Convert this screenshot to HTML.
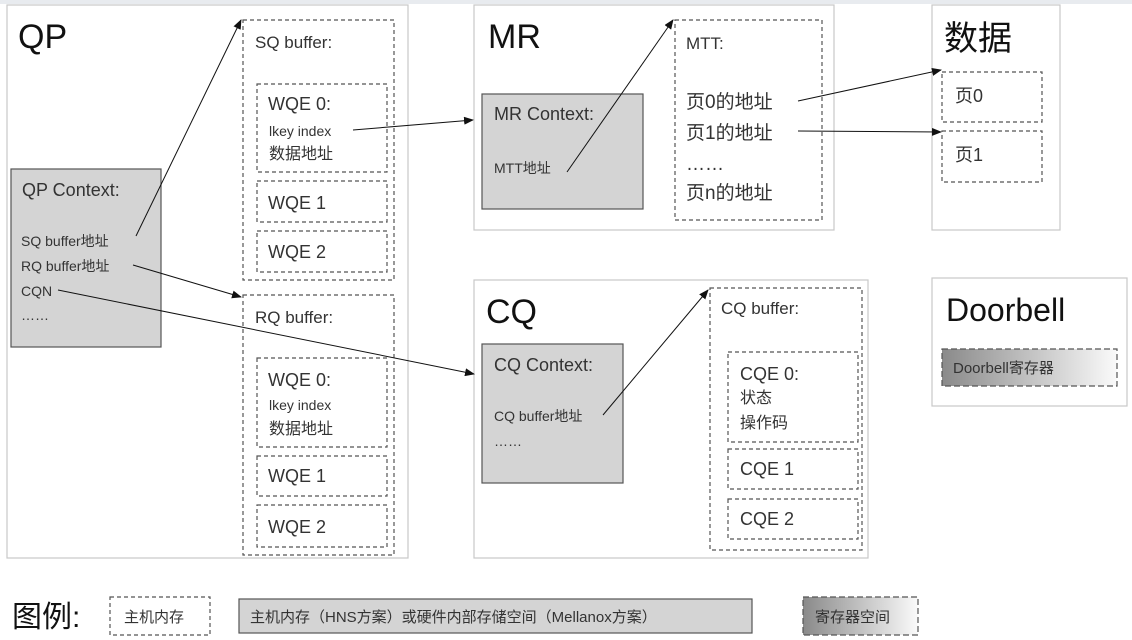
<!DOCTYPE html>
<html><head><meta charset="utf-8"><style>
html,body{margin:0;padding:0;background:#fff;}
svg{display:block;font-family:"Liberation Sans","Noto Sans CJK SC",sans-serif;}
</style></head><body>
<svg width="1132" height="640" viewBox="0 0 1132 640" xmlns="http://www.w3.org/2000/svg">
<defs>
<marker id="a" markerWidth="10" markerHeight="8" refX="9" refY="4" orient="auto" markerUnits="userSpaceOnUse"><path d="M0,0 L10,4 L0,8 z" fill="#111"/></marker>
<linearGradient id="g" x1="0" x2="1" y1="0" y2="0"><stop offset="0" stop-color="#8a8a8a"/><stop offset="1" stop-color="#fafafa"/></linearGradient>
</defs>
<rect x="0" y="0" width="1132" height="640" fill="#fff"/>
<rect x="0" y="0" width="1132" height="4" fill="#e8ebef"/>
<g fill="#fff" stroke="#c8c8c8" stroke-width="1.2">
<rect x="7" y="5" width="401" height="553"/>
<rect x="474" y="5" width="360" height="225"/>
<rect x="932" y="5" width="128" height="225"/>
<rect x="474" y="280" width="394" height="278"/>
<rect x="932" y="278" width="195" height="128"/>
</g>
<g fill="#d4d4d4" stroke="#555" stroke-width="1.2">
<rect x="11" y="169" width="150" height="178"/>
<rect x="482" y="94" width="161" height="115"/>
<rect x="482" y="344" width="141" height="139"/>
</g>
<g fill="none" stroke="#555" stroke-width="1.2" stroke-dasharray="4,3">
<rect x="243" y="20" width="151" height="260"/>
<rect x="257" y="84" width="130" height="88"/>
<rect x="257" y="181" width="130" height="41"/>
<rect x="257" y="231" width="130" height="41"/>
<rect x="243" y="295" width="151" height="260"/>
<rect x="257" y="358" width="130" height="89"/>
<rect x="257" y="456" width="130" height="40"/>
<rect x="257" y="505" width="130" height="42"/>
<rect x="675" y="20" width="147" height="200"/>
<rect x="942" y="72" width="100" height="50"/>
<rect x="942" y="131" width="100" height="51"/>
<rect x="710" y="288" width="152" height="262"/>
<rect x="728" y="352" width="130" height="90"/>
<rect x="728" y="449" width="130" height="40"/>
<rect x="728" y="499" width="130" height="40"/>
<rect x="110" y="597" width="100" height="38" fill="#fff"/>
</g>
<rect x="942" y="349" width="175" height="37" fill="url(#g)" stroke="#555" stroke-width="1.2" stroke-dasharray="6,3"/>
<rect x="803" y="597" width="115" height="38" fill="url(#g)" stroke="#555" stroke-width="1.2" stroke-dasharray="6,3"/>
<rect x="239" y="599" width="513" height="34" fill="#d4d4d4" stroke="#555" stroke-width="1.2"/>
<g fill="#111">
<text x="18" y="48" font-size="34">QP</text>
<text x="488" y="48" font-size="34">MR</text>
<text x="944" y="50" font-size="34">数据</text>
<text x="486" y="323" font-size="34">CQ</text>
<text x="946" y="321" font-size="32">Doorbell</text>
</g>
<g fill="#333" font-size="18">
<text x="22" y="196">QP Context:</text>
<text x="255" y="48" font-size="17">SQ buffer:</text>
<text x="268" y="110">WQE 0:</text>
<text x="268" y="209">WQE 1</text>
<text x="268" y="258">WQE 2</text>
<text x="255" y="323" font-size="17">RQ buffer:</text>
<text x="268" y="386">WQE 0:</text>
<text x="268" y="482">WQE 1</text>
<text x="268" y="533">WQE 2</text>
<text x="494" y="120">MR Context:</text>
<text x="686" y="49" font-size="17">MTT:</text>
<text x="686" y="108" font-size="19">页0的地址</text>
<text x="686" y="139" font-size="19">页1的地址</text>
<text x="686" y="170" font-size="19">……</text>
<text x="686" y="199" font-size="19">页n的地址</text>
<text x="955" y="102">页0</text>
<text x="955" y="161">页1</text>
<text x="494" y="371">CQ Context:</text>
<text x="721" y="314" font-size="17">CQ buffer:</text>
<text x="740" y="380">CQE 0:</text>
<text x="740" y="475">CQE 1</text>
<text x="740" y="525">CQE 2</text>
</g>
<g fill="#333" font-size="14">
<text x="21" y="246">SQ buffer地址</text>
<text x="21" y="271">RQ buffer地址</text>
<text x="21" y="296">CQN</text>
<text x="21" y="320">……</text>
<text x="269" y="136">lkey index</text>
<text x="269" y="159" font-size="16">数据地址</text>
<text x="269" y="410">lkey index</text>
<text x="269" y="434" font-size="16">数据地址</text>
<text x="494" y="173">MTT地址</text>
<text x="494" y="421">CQ buffer地址</text>
<text x="494" y="446">……</text>
<text x="740" y="403" font-size="16">状态</text>
<text x="740" y="428" font-size="16">操作码</text>
<text x="953" y="373" font-size="15">Doorbell寄存器</text>
</g>
<text x="12" y="627" font-size="30" fill="#111">图例:</text>
<g fill="#333" font-size="15">
<text x="124" y="622">主机内存</text>
<text x="250" y="622">主机内存（HNS方案）或硬件内部存储空间（Mellanox方案）</text>
<text x="815" y="622">寄存器空间</text>
</g>
<g stroke="#111" stroke-width="1" marker-end="url(#a)">
<line x1="136" y1="236" x2="241" y2="20"/>
<line x1="133" y1="265" x2="241" y2="297"/>
<line x1="58" y1="290" x2="474" y2="374"/>
<line x1="353" y1="130" x2="473" y2="120"/>
<line x1="567" y1="172" x2="673" y2="20"/>
<line x1="798" y1="101" x2="941" y2="70"/>
<line x1="798" y1="131" x2="941" y2="132"/>
<line x1="603" y1="415" x2="708" y2="290"/>
</g>
</svg>
</body></html>
